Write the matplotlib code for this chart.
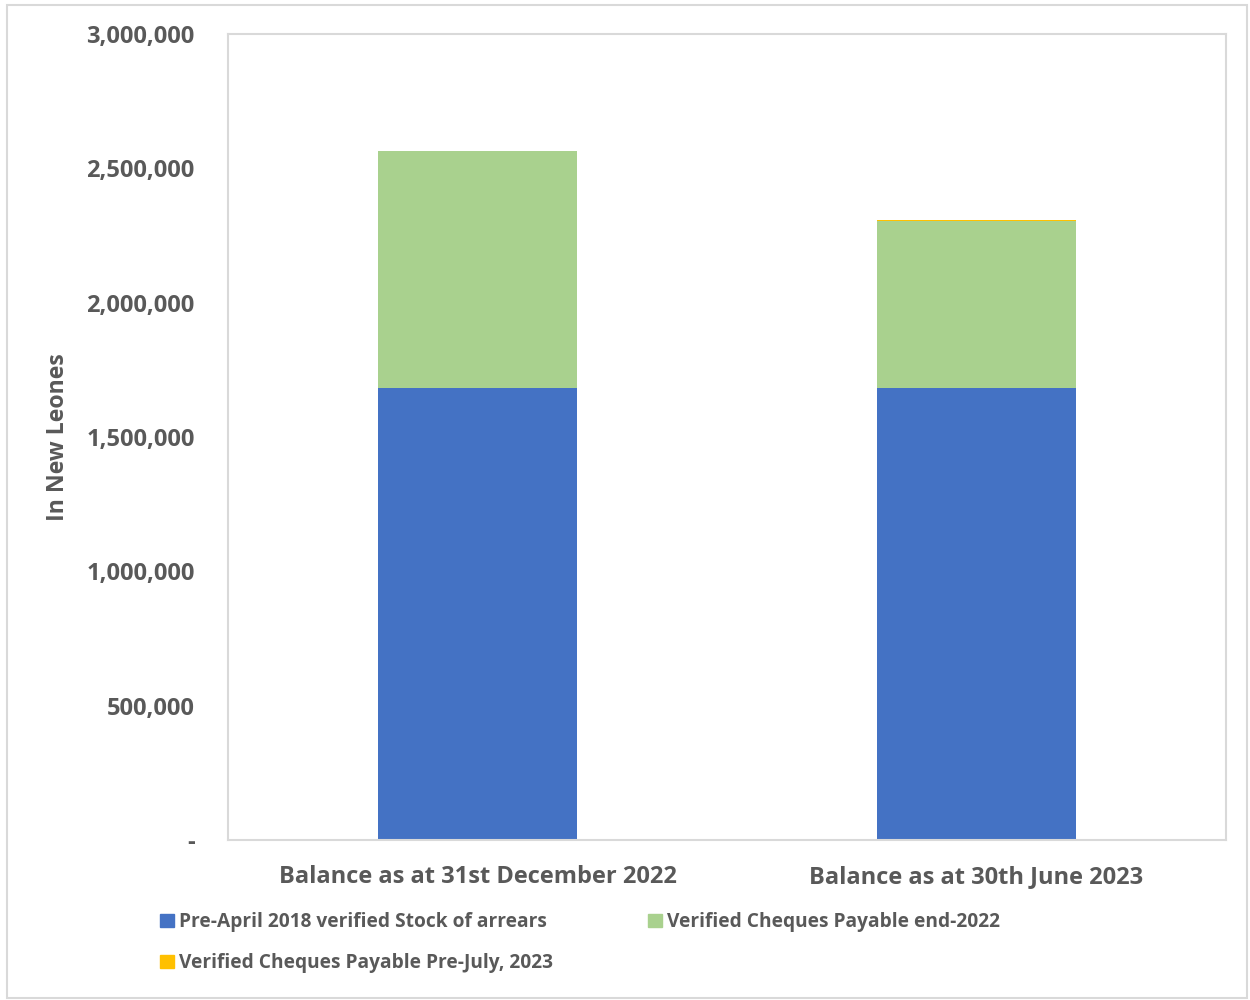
import matplotlib
matplotlib.use("Agg")
import matplotlib.pyplot as plt
from matplotlib.patches import Rectangle, Patch
from matplotlib.ticker import FuncFormatter

categories = ["Balance as at 31st December 2022", "Balance as at 30th June 2023"]
series_names = ["Pre-April 2018 verified Stock of arrears",
                "Verified Cheques Payable end-2022",
                "Verified Cheques Payable Pre-July, 2023"]
pre_april = [1683500, 1683500]
cheques_2022 = [882000, 619000]
cheques_2023 = [0, 5000]
colors = ["#4472C4", "#A9D18E", "#FFC000"]

plt.rcParams['font.family'] = ['Open Sans', 'DejaVu Sans']
txt = "#595959"

fig = plt.figure(figsize=(12.5, 10), dpi=100)
ax = fig.add_axes([228/1250, 1-840/1000, (1226-228)/1250, (840-34)/1000])

x = list(range(len(categories)))
w = 0.4
ax.bar(x, pre_april, w, color=colors[0], label=series_names[0])
b2 = [a for a in pre_april]
ax.bar(x, cheques_2022, w, bottom=b2, color=colors[1], label=series_names[1])
b3 = [a + b for a, b in zip(pre_april, cheques_2022)]
ax.bar(x, cheques_2023, w, bottom=b3, color=colors[2], label=series_names[2])

ax.set_xlim(-0.5, 1.5)
ax.set_ylim(0, 3000000)
ax.set_yticks([0, 500000, 1000000, 1500000, 2000000, 2500000, 3000000])
ax.yaxis.set_major_formatter(FuncFormatter(lambda v, p: "-" if v == 0 else f"{int(v):,}"))
ax.set_xticks(x)
ax.set_xticklabels(categories)
ax.tick_params(axis='y', length=0, pad=24, labelsize=17, labelcolor=txt)
ax.tick_params(axis='x', length=0, pad=18, labelsize=17, labelcolor=txt)
for lab in ax.get_yticklabels() + ax.get_xticklabels():
    lab.set_fontweight('bold')
for s in ax.spines.values():
    s.set_color("#D9D9D9")
    s.set_linewidth(1.5)
ax.set_ylabel("In New Leones", fontsize=16.7, fontweight='bold', color=txt, labelpad=0)
ax.yaxis.set_label_coords(-(228-70)/998, 0.5)

handles = [Patch(color=colors[0]), Patch(color=colors[2]), Patch(color=colors[1])]
labels = [series_names[0], series_names[2], series_names[1]]
leg = fig.legend(handles, labels, ncol=2, loc='upper left',
                 bbox_to_anchor=(143/1250, 1-895/1000), frameon=False,
                 prop={'size': 13.8, 'weight': 'bold'}, handlelength=0.7, handleheight=0.7,
                 handletextpad=0.3, columnspacing=4.95, labelspacing=1.1, labelcolor=txt)

fig.patches.append(Rectangle((7/1250, 2/1000), 1240/1250, 993/1000, transform=fig.transFigure,
                             fill=False, edgecolor="#D9D9D9", linewidth=1.5))

fig.savefig("out.png", dpi=100)
